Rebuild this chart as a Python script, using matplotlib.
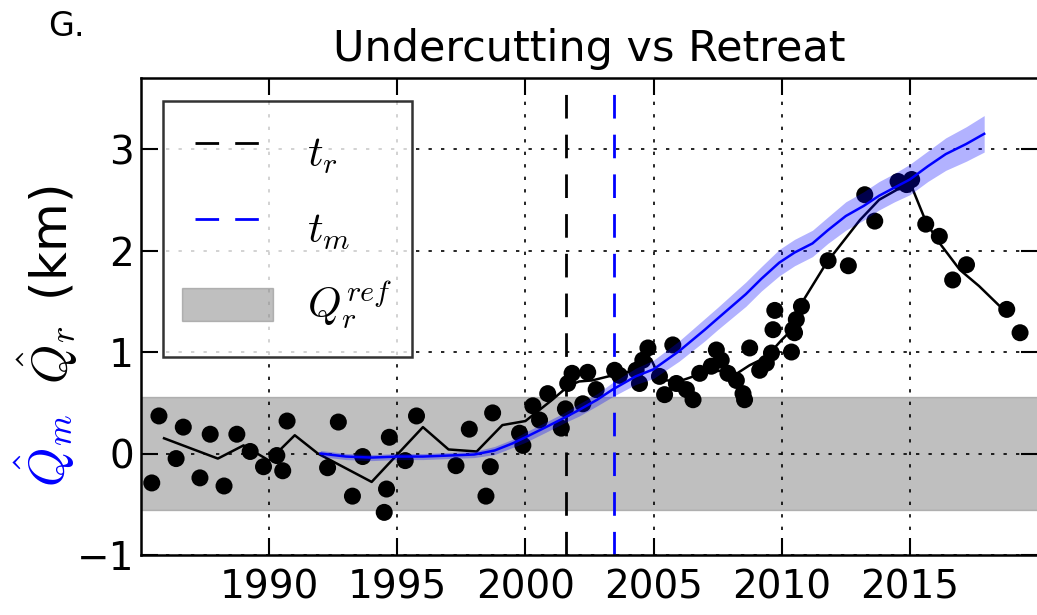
import numpy as np
import matplotlib.pyplot as plt
from matplotlib.patches import Patch, Rectangle
from matplotlib.lines import Line2D
from matplotlib.legend_handler import HandlerPatch

plt.rcParams['mathtext.fontset'] = 'cm'
plt.rcParams['font.family'] = ['DejaVu Sans']
plt.rcParams['font.size'] = 26

# observed retreat (black dots)
obs_year = [1985.42, 1985.70, 1986.37, 1986.65, 1987.30, 1987.70, 1988.24, 1988.74, 1989.26, 1989.78,
            1990.30, 1990.53, 1990.70, 1992.28, 1992.70, 1993.25, 1993.65, 1994.49, 1994.58, 1994.69,
            1995.31, 1995.75, 1997.29, 1997.81, 1998.46, 1998.63, 1998.72, 1999.77, 1999.90,
            2000.29, 2000.55, 2000.87, 2001.40, 2001.56, 2001.65, 2001.82, 2002.24, 2002.43, 2002.76,
            2003.48, 2003.67, 2004.32, 2004.45, 2004.58, 2004.78,
            2005.23, 2005.43, 2005.75, 2005.89, 2006.28, 2006.54, 2006.80, 2007.25, 2007.45, 2007.64,
            2007.90, 2008.23, 2008.49, 2008.55, 2008.75, 2009.14, 2009.40, 2009.60, 2009.66, 2009.73,
            2010.38, 2010.44, 2010.50, 2010.57, 2010.77,
            2011.81, 2012.60, 2013.24, 2013.63, 2014.54, 2014.87, 2015.07, 2015.62, 2016.15, 2016.67,
            2017.21, 2018.78, 2019.30]
obs_val = [-0.29, 0.37, -0.05, 0.26, -0.24, 0.19, -0.32, 0.19, 0.02, -0.13,
           -0.02, -0.17, 0.32, -0.14, 0.31, -0.42, -0.03, -0.58, -0.35, 0.16,
           -0.07, 0.37, -0.12, 0.24, -0.42, -0.13, 0.40, 0.20, 0.08,
           0.47, 0.33, 0.59, 0.25, 0.44, 0.69, 0.79, 0.49, 0.80, 0.63,
           0.82, 0.77, 0.82, 0.69, 0.92, 1.04,
           0.76, 0.58, 1.07, 0.69, 0.63, 0.53, 0.79, 0.86, 1.02, 0.92,
           0.79, 0.72, 0.59, 0.53, 1.04, 0.82, 0.89, 0.99, 1.22, 1.41,
           1.00, 1.22, 1.19, 1.32, 1.45,
           1.90, 1.85, 2.55, 2.29, 2.68, 2.65, 2.70, 2.26, 2.14, 1.71,
           1.86, 1.42, 1.19]

# smoothed retreat (black line)
mean_year = [1985.9, 1988.0, 1989.0, 1990.0, 1991.0, 1991.9, 1994.0, 1996.0, 1997.0, 1998.1,
             1999.1, 2000.0, 2001.0, 2001.7, 2002.1, 2002.6, 2003.4, 2004.3, 2004.9, 2005.3,
             2006.1, 2006.9, 2007.7, 2008.2, 2008.75, 2009.4, 2010.0, 2010.4, 2010.7, 2011.75,
             2013.05, 2013.8, 2014.5, 2015.07, 2015.65, 2016.17, 2016.95, 2017.7, 2018.8]
mean_val = [0.15, -0.05, 0.08, -0.07, 0.18, 0.0, -0.28, 0.26, 0.04, 0.02,
            0.28, 0.32, 0.52, 0.67, 0.71, 0.72, 0.77, 0.82, 0.93, 0.72,
            0.72, 0.79, 0.82, 0.78, 0.87, 0.95, 1.12, 1.22, 1.45, 1.88,
            2.30, 2.50, 2.60, 2.63, 2.27, 2.07, 1.81, 1.65, 1.38]

# modelled undercutting (blue line + band)
blue_year = [1992.0, 1993.0, 1994.0, 1995.0, 1996.0, 1997.0, 1998.0, 1998.8, 1999.5, 2000.0,
             2000.8, 2001.5, 2002.1, 2002.8, 2003.4, 2004.3, 2005.0, 2006.0, 2007.0, 2007.5,
             2008.6, 2009.2, 2009.9, 2010.5, 2011.2, 2011.8, 2012.5, 2013.2, 2013.8, 2014.4,
             2015.0, 2015.7, 2016.4, 2017.2, 2017.9]
blue_val = [0.00, -0.03, -0.04, -0.03, -0.03, -0.02, -0.01, 0.03, 0.10, 0.16,
            0.26, 0.35, 0.43, 0.53, 0.63, 0.76, 0.83, 1.01, 1.22, 1.33,
            1.57, 1.72, 1.88, 1.98, 2.07, 2.20, 2.34, 2.44, 2.54, 2.62,
            2.70, 2.83, 2.95, 3.05, 3.15]
blue_err = [0.03, 0.03, 0.03, 0.03, 0.03, 0.03, 0.03, 0.04, 0.04, 0.05,
            0.05, 0.05, 0.06, 0.06, 0.07, 0.08, 0.09, 0.10, 0.11, 0.11,
            0.12, 0.12, 0.13, 0.13, 0.13, 0.13, 0.14, 0.14, 0.14, 0.14,
            0.15, 0.15, 0.16, 0.17, 0.18]

t_r = 2001.6
t_m = 2003.45
q_ref = 0.56

dash = (0, (8.5, 5.8))


def flat_rect(legend, orig_handle, xdescent, ydescent, width, height, fontsize):
    # legend patch thinner than the (tall) handle box
    h = 0.75 * fontsize
    return Rectangle((-xdescent, -ydescent + (height - h) / 2), width, h)


fig = plt.figure(figsize=(10.37, 6.15), dpi=100)
ax = fig.add_axes([141/1037, 60/615, 897/1037, 477/615])

ax.axhspan(-q_ref, q_ref, color='gray', alpha=0.5, lw=1, zorder=0)
ax.axvline(t_r, color='k', lw=2, ls=dash, zorder=2)
ax.axvline(t_m, color='b', lw=2, ls=dash, zorder=2)

ax.plot(mean_year, mean_val, 'k-', lw=1.8, zorder=3)
ax.scatter(obs_year, obs_val, s=150, c='k', edgecolors='none', zorder=4)

by = np.array(blue_year)
bv = np.array(blue_val)
be = np.array(blue_err)
ax.fill_between(by, bv - be, bv + be, color='b', alpha=0.3, lw=0, zorder=5)
ax.plot(by, bv, 'b-', lw=1.8, zorder=6)

ax.set_xlim(1985, 2020)
ax.set_ylim(-1, 3.7)
ax.set_xticks([1990, 1995, 2000, 2005, 2010, 2015])
ax.set_yticks([-1, 0, 1, 2, 3])
ax.grid(True, color='k', lw=1.2, ls=(0, (2, 5.5)))
ax.tick_params(direction='in', top=True, right=True, length=12, width=1.5, labelsize=28)
ax.tick_params(axis='x', pad=10)
ax.tick_params(axis='y', pad=5)
for s in ax.spines.values():
    s.set_linewidth(1.8)

ax.set_title('Undercutting vs Retreat', fontsize=31, pad=12)

gray_patch = Patch(facecolor='gray', edgecolor='gray', alpha=0.5, lw=1)
handles = [Line2D([], [], color='k', lw=2, ls=dash),
           Line2D([], [], color='b', lw=2, ls=dash),
           gray_patch]
labels = [r'$t_r$', r'$t_m$', r'$Q_r^{ref}$']
leg = ax.legend(handles, labels, loc='upper left', bbox_to_anchor=(0.0245, 0.952),
                borderaxespad=0, numpoints=2, fancybox=False, fontsize=31,
                handlelength=2.1, handleheight=1.95, handletextpad=0.8,
                labelspacing=0.25, borderpad=0.45,
                handler_map={gray_patch: HandlerPatch(patch_func=flat_rect)})
leg.get_frame().set_edgecolor('k')
leg.get_frame().set_linewidth(1.8)
leg.set_zorder(10)

fig.text(48/1037, (615-384)/615, r'$\hat{Q}_r\,$ (km)', rotation=90, ha='center', va='bottom',
         fontsize=36, color='k')
fig.text(45/1037, (615-450)/615, r'$\hat{Q}_m$', rotation=90, ha='center', va='center',
         fontsize=36, color='b')
fig.text(48/1037, (615-36)/615, 'G.', fontsize=24)

plt.savefig('out.png', dpi=100)
